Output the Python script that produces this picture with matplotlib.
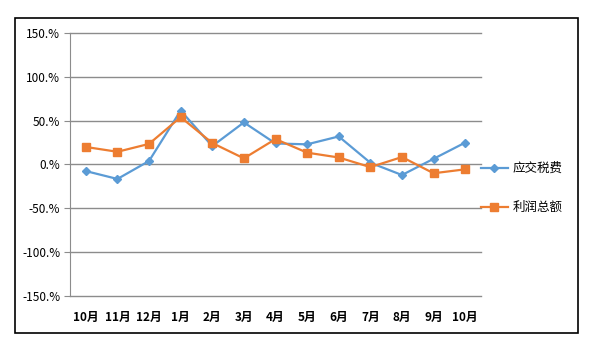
import matplotlib.pyplot as plt
from matplotlib.ticker import FuncFormatter, MultipleLocator
from matplotlib.patches import Rectangle

plt.rcParams['font.family'] = ['Noto Sans CJK SC', 'DejaVu Sans']

months = ['10月', '11月', '12月', '1月', '2月', '3月', '4月',
          '5月', '6月', '7月', '8月', '9月', '10月']
tax = [-7.5, -16.5, 4, 61.5, 21, 48, 24, 23, 32, 2, -12, 6.5, 25]
profit = [20, 14.5, 23.5, 54, 24.5, 7, 29, 13.5, 8, -3, 8.5, -10, -5.5]

fig = plt.figure(figsize=(5.97, 3.48), dpi=100)
ax = fig.add_axes([70 / 597, 1 - 296 / 348, 411 / 597, 263 / 348])

# outer frame
fig.patches.append(Rectangle((15 / 597, 1 - 333 / 348), 563 / 597, 315 / 348,
                             transform=fig.transFigure, fill=False,
                             edgecolor='black', linewidth=1.2))

x = range(len(months))
ax.plot(x, tax, color='#5B9BD5', lw=1.6, marker='D', ms=4.5, label='应交税费')
ax.plot(x, profit, color='#ED7D31', lw=1.6, marker='s', ms=5.5, label='利润总额')

ax.set_xlim(-0.5, len(months) - 0.5)
ax.set_ylim(-150, 150)
ax.yaxis.set_major_locator(MultipleLocator(50))
ax.yaxis.set_major_formatter(FuncFormatter(lambda v, p: f'{v:.0f}.%'))
ax.grid(axis='y', color='#8c8c8c', lw=1)
ax.set_axisbelow(True)
for gl in ax.get_ygridlines():
    gl.set_clip_on(False)

ax.set_xticks(list(x))
ax.set_xticklabels(months, fontweight='bold', fontsize=8.5)
ax.tick_params(axis='x', length=0, pad=11)
ax.tick_params(axis='y', length=4, color='#8c8c8c', labelsize=8.5, pad=3)

for s in ['top', 'right', 'bottom']:
    ax.spines[s].set_visible(False)
ax.spines['left'].set_color('#8c8c8c')

ax.legend(loc='center left', bbox_to_anchor=(0.972, 0.41), frameon=False,
          fontsize=9, handlelength=2.2, handletextpad=0.35, labelspacing=2.1)

fig.savefig('out.png', dpi=100)
